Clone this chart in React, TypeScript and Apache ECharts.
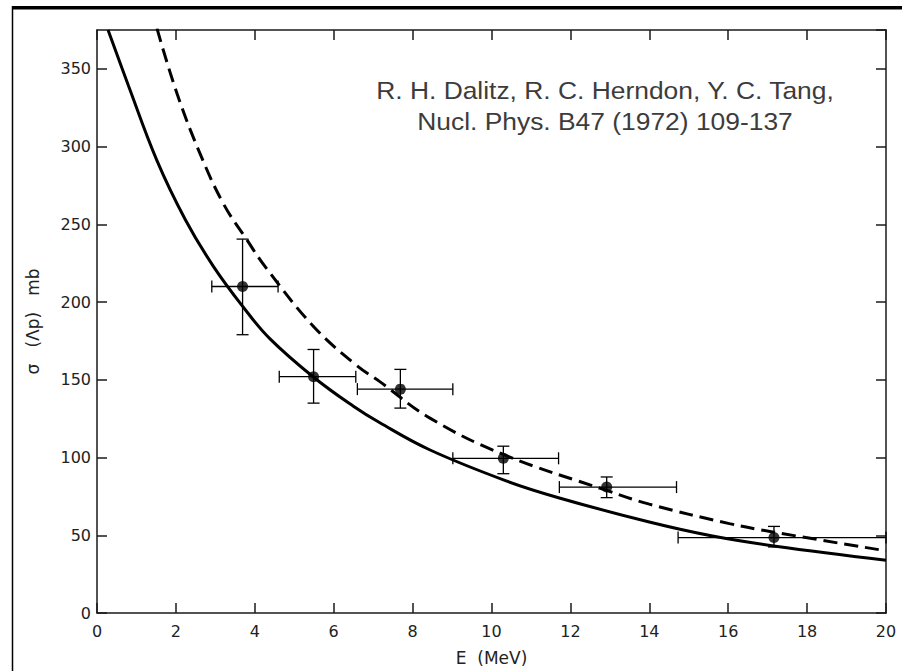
import React, { useEffect, useRef } from "react";
import * as echarts from "echarts";

// ---- data ----
const solidCurve: [number, number][] = [
  [0.28, 375], [0.8, 339], [1.52, 291], [2.24, 253], [2.95, 223],
  [3.7, 197], [4.38, 176.5], [5.5, 151.5], [6.5, 133], [7.16, 122.5], [8.43, 105],
  [10.37, 85], [11.72, 74], [14.0, 58.5], [15.6, 49.5], [17.2, 43], [20, 34],
];
const dashedCurve: [number, number][] = [
  [1.52, 376], [2.03, 334], [2.62, 295], [3.21, 263], [3.8, 240], [4.3, 221.5],
  [5.5, 184], [6.57, 159.5], [7.16, 149], [8.43, 125.5],
  [10.3, 102], [12.9, 79], [14.0, 70], [16.03, 57.5], [17.16, 52], [20, 40],
];
const pointE = [3.69, 5.49, 7.69, 10.3, 12.92, 17.16];
const pointSigma = [210, 152, 144, 99.5, 81, 48.5];
const sigmaLow = [179, 135, 131.8, 89.6, 74.2, 42.5];
const sigmaHigh = [240.5, 169.5, 156.7, 107.3, 87.5, 55.7];
const eLow = [2.91, 4.62, 6.6, 9.02, 11.72, 14.73];
const eHigh = [4.59, 6.56, 9.02, 11.7, 14.69, 20];
const xTicks = { min: 0, max: 20, interval: 2 };
const yTicks = { min: 0, max: 375, interval: 50 };
const titleLines = [
  "R. H. Dalitz, R. C. Herndon, Y. C. Tang,",
  "Nucl. Phys. B47 (1972) 109-137",
];
const NB = "\u00A0";
const xName = `E${NB}${NB}(MeV)`;
const yName = `σ${NB}${NB}${NB}(Λp)${NB}${NB}${NB}mb`;

const FONT = "DejaVu Sans";
const INK = "#1a1a1a";

export default function App() {
  const ref = useRef<HTMLDivElement>(null);
  useEffect(() => {
    if (!ref.current) return;
    const chart = echarts.init(ref.current, null, { renderer: "svg" });
    const errData = pointE.map((e, i) => [e, pointSigma[i], sigmaLow[i], sigmaHigh[i], eLow[i], eHigh[i]]);
    const axisCommon = {
      axisLine: { show: true, onZero: false, lineStyle: { color: INK, width: 1.5 } },
      axisTick: { show: true, inside: true, length: 10, lineStyle: { color: INK, width: 1.5 } },
      splitLine: { show: false },
    };
    const labelStyle = { color: "#222", fontFamily: FONT, fontSize: 16, fontWeight: "normal" as any };
    chart.setOption({
      animation: false,
      backgroundColor: "#ffffff",
      grid: { left: 97, right: 16, top: 30, bottom: 55, containLabel: false },
      xAxis: [
        {
          type: "value", ...xTicks, position: "bottom", ...axisCommon,
          axisLabel: { ...labelStyle, margin: 10 },
          name: xName, nameLocation: "middle", nameGap: 36,
          nameTextStyle: { color: "#222", fontFamily: FONT, fontSize: 17 },
        },
        {
          type: "value", ...xTicks, position: "top", ...axisCommon,
          axisLabel: { show: false },
        },
      ],
      yAxis: [
        {
          type: "value", ...yTicks, position: "left", ...axisCommon,
          axisLabel: { ...labelStyle, margin: 6, showMaxLabel: false },
          name: yName, nameLocation: "middle", nameGap: 56, nameRotate: 90,
          nameTextStyle: { color: "#222", fontFamily: FONT, fontSize: 17 },
        },
        {
          type: "value", ...yTicks, position: "right", ...axisCommon,
          axisLabel: { show: false },
        },
      ],
      graphic: [
        { type: "rect", shape: { x: 12, y: 6, width: 890, height: 3.5 }, style: { fill: "#000" } },
        { type: "line", shape: { x1: 12.5, y1: 6, x2: 12.5, y2: 671 }, style: { stroke: "#000", lineWidth: 1.5 } },
        {
          type: "text", x: 605, y: 102, scaleX: 1.1,
          style: { text: titleLines[0], fill: "#3c3c3c", font: "24px 'Liberation Sans'", textAlign: "center", textVerticalAlign: "bottom" },
        },
        {
          type: "text", x: 605, y: 133, scaleX: 1.1,
          style: { text: titleLines[1], fill: "#3c3c3c", font: "24px 'Liberation Sans'", textAlign: "center", textVerticalAlign: "bottom" },
        },
      ],
      series: [
        {
          type: "line", data: solidCurve, smooth: 0.4, showSymbol: false, clip: true,
          lineStyle: { color: "#000", width: 3 },
        },
        {
          type: "line", data: dashedCurve, smooth: 0.4, showSymbol: false, clip: true,
          lineStyle: { color: "#000", width: 3, type: [14, 7] },
        },
        {
          type: "custom", data: errData, encode: { x: [0, 4, 5], y: [1, 2, 3] },
          renderItem: (params: any, api: any) => {
            const e = api.value(0), s = api.value(1);
            const pLo = api.coord([e, api.value(2)]);
            const pHi = api.coord([e, api.value(3)]);
            const pL = api.coord([api.value(4), s]);
            const pR = api.coord([api.value(5), s]);
            const st = { stroke: "#000", lineWidth: 1.3 };
            const cap = 6;
            return {
              type: "group",
              children: [
                { type: "line", shape: { x1: pLo[0], y1: pLo[1], x2: pHi[0], y2: pHi[1] }, style: st },
                { type: "line", shape: { x1: pLo[0] - cap, y1: pLo[1], x2: pLo[0] + cap, y2: pLo[1] }, style: st },
                { type: "line", shape: { x1: pHi[0] - cap, y1: pHi[1], x2: pHi[0] + cap, y2: pHi[1] }, style: st },
                { type: "line", shape: { x1: pL[0], y1: pL[1], x2: pR[0], y2: pR[1] }, style: st },
                { type: "line", shape: { x1: pL[0], y1: pL[1] - cap, x2: pL[0], y2: pL[1] + cap }, style: st },
                { type: "line", shape: { x1: pR[0], y1: pR[1] - cap, x2: pR[0], y2: pR[1] + cap }, style: st },
              ],
            };
          },
        },
        {
          type: "scatter", data: pointE.map((e, i) => [e, pointSigma[i]]),
          symbol: "circle", symbolSize: 11, itemStyle: { color: "#000" },
        },
      ],
    });
    return () => chart.dispose();
  }, []);
  return (
    <div
      ref={ref}
      style={{ position: "fixed", left: 0, top: 0, width: 902, height: 671, background: "#fff" }}
    />
  );
}
